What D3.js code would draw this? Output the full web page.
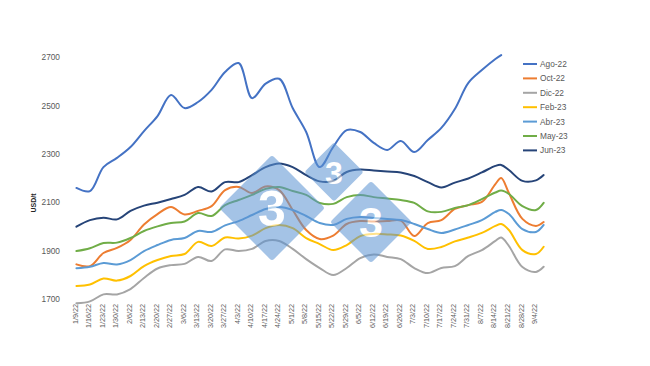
<!DOCTYPE html>
<html>
<head>
<meta charset="utf-8">
<script src="https://cdn.jsdelivr.net/npm/d3@7"></script>
<style>
  body { margin: 0; background: #fff; }
  text { font-family: "Liberation Sans", Arial, sans-serif; }
</style>
</head>
<body>
<div id="chart"></div>
<script>
// weekly quotes (plus 8/18 and 9/9)
const dates = ["2022-01-10","2022-01-17","2022-01-24","2022-01-31","2022-02-07","2022-02-14","2022-02-21","2022-02-28",
  "2022-03-07","2022-03-14","2022-03-21","2022-03-28","2022-04-04","2022-04-11","2022-04-18","2022-04-25",
  "2022-05-02","2022-05-09","2022-05-16","2022-05-23","2022-05-30","2022-06-06","2022-06-13","2022-06-20","2022-06-27",
  "2022-07-04","2022-07-11","2022-07-18","2022-07-25","2022-08-01","2022-08-08","2022-08-15","2022-08-18",
  "2022-08-22","2022-08-29","2022-09-05","2022-09-09"];

const ago22 = [2159,2146,2245,2283,2328,2394,2456,2543,2489,2514,2564,2638,2675,2530,2590,2610,
  2489,2390,2245,2328,2398,2390,2345,2316,2353,2307,2357,2407,2485,2593,2646,2692,2708,null,null,null,null];
const oct22 = [1843,1836,1890,1911,1944,2008,2051,2080,2049,2064,2084,2150,2163,2138,2165,2150,
  2068,1985,1948,1962,2010,2022,2020,2022,2024,1960,2014,2026,2072,2088,2101,2175,2200,2138,2031,2002,2018];
const dic22 = [1682,1690,1719,1719,1741,1787,1826,1840,1845,1874,1857,1905,1898,1907,1940,1940,
  1907,1865,1828,1799,1828,1869,1884,1874,1865,1828,1807,1828,1836,1878,1902,1940,1954,1919,1832,1812,1833];
const feb23 = [1754,1760,1785,1776,1795,1836,1861,1878,1886,1936,1919,1954,1950,1962,1993,2006,
  1993,1952,1927,1902,1923,1960,1969,1967,1962,1940,1907,1915,1938,1954,1973,2002,2010,1985,1902,1886,1916];
const abr23 = [1827,1833,1849,1843,1861,1898,1923,1944,1952,1981,1977,2004,2022,2047,2072,2080,
  2068,2043,2014,2006,2031,2039,2035,2031,2026,2010,1989,1973,1987,2006,2026,2060,2068,2051,1989,1977,2006];
const may23 = [1898,1910,1931,1933,1952,1981,2000,2014,2020,2055,2043,2088,2109,2130,2155,2163,
  2146,2130,2097,2093,2121,2130,2121,2115,2109,2097,2062,2060,2076,2088,2113,2140,2148,2134,2084,2068,2097];
const jun23 = [1999,2026,2036,2029,2064,2086,2098,2113,2130,2163,2144,2183,2183,2212,2245,2260,
  2245,2212,2186,2188,2225,2235,2231,2227,2223,2208,2183,2161,2181,2198,2223,2250,2254,2233,2188,2190,2212];

const seriesNames = ["Ago-22", "Oct-22", "Dic-22", "Feb-23", "Abr-23", "May-23", "Jun-23"];
const seriesValues = [ago22, oct22, dic22, feb23, abr23, may23, jun23];
const seriesColors = ["#4472C4", "#ED7D31", "#A5A5A5", "#FFC000", "#5B9BD5", "#70AD47", "#264478"];
const yTicks = [1700, 1900, 2100, 2300, 2500, 2700];

const width = 650, height = 366;
const svg = d3.select("#chart").append("svg")
  .attr("width", width)
  .attr("height", height)
  .style("background", "#fff");

const parseDate = d3.timeParse("%Y-%m-%d");
const xDates = dates.map(parseDate);

const xScale = d3.scaleTime()
  .domain([new Date(2022, 0, 9), new Date(2022, 8, 4)])
  .range([74.5, 534]);
const yScale = d3.scaleLinear().domain([1700, 2700]).range([299, 57]);

// y axis labels
const yAxis = svg.append("g")
  .attr("transform", "translate(60,0)")
  .call(d3.axisLeft(yScale).tickValues(yTicks).tickFormat(d3.format("d"))
    .tickSize(0).tickPadding(0));
yAxis.select(".domain").remove();
yAxis.selectAll("text")
  .style("font-size", "8.3px")
  .style("fill", "#595959")
  .style("font-family", "'Liberation Sans', Arial, sans-serif");

svg.append("text")
  .attr("transform", "translate(36,203) rotate(-90)")
  .style("text-anchor", "middle")
  .style("font-size", "7px")
  .style("font-weight", "bold")
  .style("fill", "#262626")
  .text("USD/t");

// x axis labels, weekly
const weekTicks = d3.timeWeek.range(new Date(2022, 0, 9), new Date(2022, 8, 5));
const xAxis = svg.append("g")
  .attr("transform", "translate(0,299)")
  .call(d3.axisBottom(xScale).tickValues(weekTicks)
    .tickFormat(d3.timeFormat("%-m/%-d/%y")).tickSize(0));
xAxis.select(".domain").remove();
xAxis.selectAll("text")
  .attr("x", -5)
  .attr("y", 0)
  .attr("dy", "0.35em")
  .attr("transform", "rotate(-90)")
  .style("text-anchor", "end")
  .style("font-size", "7.2px")
  .style("fill", "#595959")
  .style("font-family", "'Liberation Sans', Arial, sans-serif");

// lines
const line = d3.line()
  .defined((d) => d.v != null)
  .x((d) => xScale(d.date))
  .y((d) => yScale(d.v))
  .curve(d3.curveCatmullRom.alpha(0.5));

seriesValues.forEach((vals, i) => {
  const pts = vals.map((v, j) => ({ date: xDates[j], v: v }));
  svg.append("path")
    .datum(pts)
    .attr("d", line)
    .style("fill", "none")
    .style("stroke", seriesColors[i])
    .style("stroke-width", "2")
    .style("stroke-linejoin", "round")
    .style("stroke-linecap", "round");
});

// watermark logo
const marks = [
  { cx: 272, cy: 208, s: 75, fs: 50 },
  { cx: 334, cy: 172, s: 42, fs: 32 },
  { cx: 371, cy: 222, s: 58, fs: 43 },
];
const wm = svg.append("g").style("opacity", 0.55);
marks.forEach((m) => {
  const g = wm.append("g").attr("transform", `translate(${m.cx},${m.cy})`);
  g.append("rect")
    .attr("x", -m.s / 2)
    .attr("y", -m.s / 2)
    .attr("width", m.s)
    .attr("height", m.s)
    .attr("rx", 3)
    .attr("transform", "rotate(45)")
    .style("fill", "#5B93D3");
  g.append("text")
    .attr("y", m.fs * 0.36)
    .style("text-anchor", "middle")
    .style("font-size", m.fs + "px")
    .style("font-weight", "bold")
    .style("fill", "#fff")
    .text("3");
});

// legend
const legend = svg.append("g").attr("transform", "translate(523,64)");
seriesNames.forEach((name, i) => {
  const row = legend.append("g").attr("transform", `translate(0,${i * 14.4})`);
  row.append("line")
    .attr("x1", 0).attr("x2", 14)
    .attr("y1", 0).attr("y2", 0)
    .style("stroke", seriesColors[i])
    .style("stroke-width", "2");
  row.append("text")
    .attr("x", 17)
    .attr("y", 0)
    .attr("dy", "0.35em")
    .style("font-size", "8.3px")
    .style("fill", "#595959")
    .text(name);
});
</script>
</body>
</html>
